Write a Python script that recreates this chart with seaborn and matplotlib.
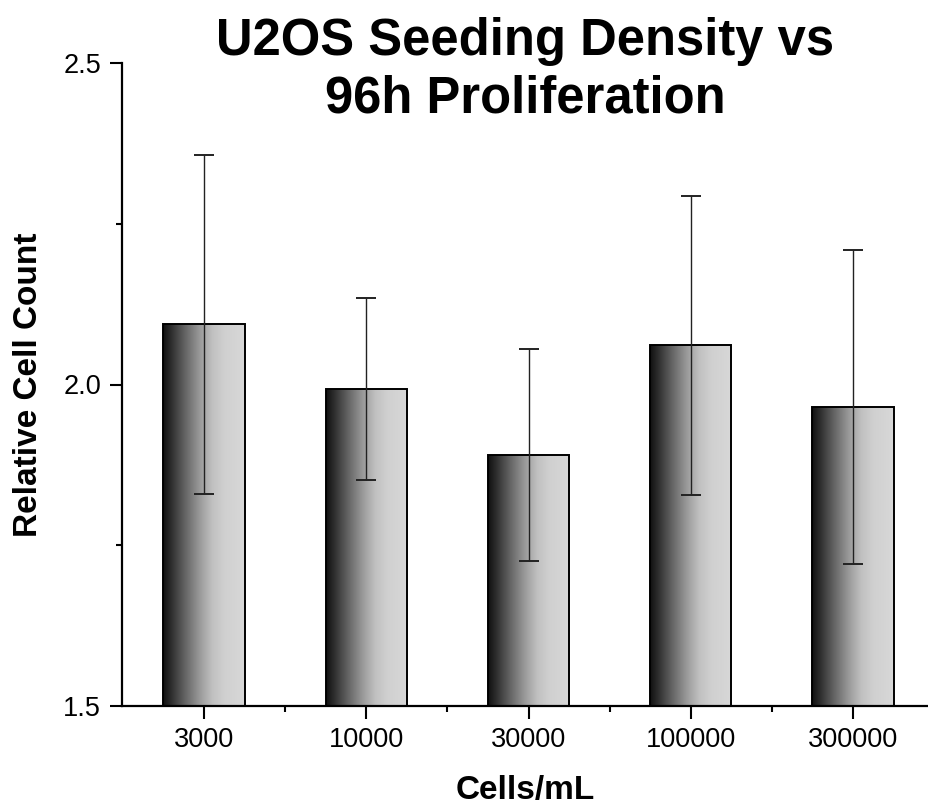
import numpy as np
import pandas as pd
import matplotlib
matplotlib.use("Agg")
import matplotlib.pyplot as plt
from matplotlib.colors import LinearSegmentedColormap
from matplotlib.ticker import FixedLocator
import seaborn as sns

# ---- data ----
densities = ["3000", "10000", "30000", "100000", "300000"]
relative_count = [2.094, 1.993, 1.890, 2.061, 1.965]
errors = [0.264, 0.141, 0.165, 0.233, 0.245]
y_ticks = [1.5, 2.0, 2.5]
y_tick_labels = ["1.5", "2.0", "2.5"]
title_text = "U2OS Seeding Density vs\n96h Proliferation"
x_label = "Cells/mL"
y_label = "Relative Cell Count"

sns.set_theme(style="ticks")
plt.rcParams['font.family'] = ['Liberation Sans', 'DejaVu Sans']
plt.rcParams['text.color'] = 'black'
plt.rcParams['axes.labelcolor'] = 'black'

df = pd.DataFrame({"density": densities, "count": relative_count})

W, H = 929, 807
fig = plt.figure(figsize=(W / 100, H / 100), dpi=100, facecolor="white")
left_px, right_px, top_px, bottom_px = 122, 929, 63.3, 705.7
ax = fig.add_axes([left_px / W, 1 - bottom_px / H, (right_px - left_px) / W, (bottom_px - top_px) / H])

sns.barplot(data=df, x="density", y="count", order=densities, width=0.5,
            color="white", edgecolor="black", linewidth=1.4, ax=ax, zorder=3)

ymin, ymax = 1.5, 2.5
cmap = LinearSegmentedColormap.from_list(
    "grad", [(0.0, "#101010"), (0.1, "#2e2e2e"), (0.25, "#5e5e5e"),
             (0.45, "#9a9a9a"), (0.6, "#c0c0c0"), (0.75, "#d0d0d0"), (1.0, "#d8d8d8")])
grad = np.linspace(0, 1, 256).reshape(1, -1)
for p in ax.patches:
    x0 = p.get_x()
    w = p.get_width()
    h = p.get_height()
    p.set_facecolor("none")
    im = ax.imshow(grad, cmap=cmap, aspect="auto", extent=(x0, x0 + w, ymin, h),
                   origin="lower", zorder=2, interpolation="bicubic")
    im.set_clip_path(p)

centers = [p.get_x() + p.get_width() / 2 for p in ax.patches]
ax.errorbar(centers, relative_count, yerr=errors, fmt="none", ecolor="#222222",
            elinewidth=1.0, capsize=7, capthick=1.4, zorder=4)

ax.set_xlim(-0.505, 4.468)
ax.set_ylim(ymin, ymax)
ax.yaxis.set_major_locator(FixedLocator(y_ticks))
ax.yaxis.set_minor_locator(FixedLocator([1.75, 2.25]))
ax.xaxis.set_minor_locator(FixedLocator([0.5, 1.5, 2.5, 3.5, 4.5]))
ax.set_yticklabels(y_tick_labels)

for s in ["top", "right"]:
    ax.spines[s].set_visible(False)
for s in ["left", "bottom"]:
    ax.spines[s].set_linewidth(1.6)
    ax.spines[s].set_color("black")

ax.tick_params(axis="both", which="major", length=9, width=1.5, color="black",
               labelsize=19.5, labelcolor="black", direction="out")
ax.tick_params(axis="both", which="minor", length=4.5, width=1.5, color="black", direction="out")
ax.tick_params(axis="y", which="major", pad=6)
ax.tick_params(axis="x", which="major", pad=6)

ax.set_xlabel(x_label, fontsize=24, fontweight="bold", color="black")
ax.set_ylabel(y_label, fontsize=24, fontweight="bold", color="black")
ax.xaxis.label.set_va("center")
ax.yaxis.label.set_va("center")
ax.xaxis.set_label_coords(0.5, (bottom_px - 790) / (bottom_px - top_px))
ax.yaxis.set_label_coords((29 - left_px) / (right_px - left_px), 0.5)

fig.text((left_px + right_px) / 2 / W, 1 - 17 / H, title_text, ha="center", va="top",
         fontsize=36.5, fontweight="bold", linespacing=1.22, color="black")

fig.savefig("out.png", dpi=100, facecolor="white")
